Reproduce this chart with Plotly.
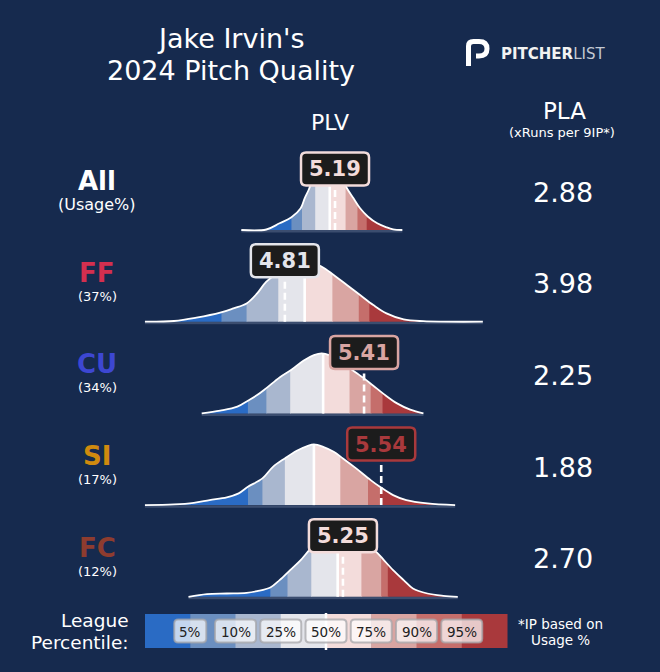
import numpy as np
import plotly.graph_objects as go

W, H = 660, 672
BG = "#162a4e"
FONT = "DejaVu Sans"

# ---------------- data ----------------
pitch_names = ["All", "FF", "CU", "SI", "FC"]
usage_labels = ["(Usage%)", "(37%)", "(34%)", "(17%)", "(12%)"]
name_colors = ["#ffffff", "#d42f4f", "#3d47d2", "#d08a0e", "#8e3c2f"]
plv_values = [5.19, 4.81, 5.41, 5.54, 5.25]
pla_values = [2.88, 3.98, 2.25, 1.88, 2.70]

percentile_labels = ["5%", "10%", "25%", "50%", "75%", "90%", "95%"]
seg_colors = ["#2a6bc4", "#6b8fc0", "#a9b7cf", "#e4e5eb",
              "#f3dcdb", "#d9a5a2", "#c56e6b", "#a9393c"]

# league percentile cut points (PLV) per pitch type
all_pcts = [4.86, 4.94, 5.04, 5.15, 5.27, 5.36, 5.43]
ff_pcts = [4.33, 4.52, 4.76, 4.96, 5.17, 5.37, 5.45]
cu_pcts = [4.53, 4.67, 4.85, 5.10, 5.30, 5.46, 5.55]
si_pcts = [4.53, 4.64, 4.81, 5.03, 5.23, 5.44, 5.53]
fc_pcts = [4.70, 4.83, 5.01, 5.21, 5.39, 5.54, 5.59]

# pitcher PLV density curves (x = PLV, y = relative density)
all_x = [4.48, 4.67, 4.77, 4.86, 4.93, 4.96, 4.99, 5.02, 5.06, 5.14, 5.21, 5.25,
         5.28, 5.33, 5.38, 5.44, 5.51, 5.58, 5.63, 5.70]
all_y = [0, 0.5, 6.7, 12.7, 21.7, 31.7, 40, 50, 58, 61, 57, 50,
         41.7, 31.7, 21.7, 13.3, 6.7, 2.7, 0.7, 0]
ff_x = [3.75, 3.97, 4.14, 4.32, 4.42, 4.52, 4.60, 4.67, 4.77, 4.89, 4.99, 5.09,
        5.18, 5.28, 5.38, 5.48, 5.58, 5.71, 5.86, 6.31]
ff_y = [0, 0.7, 4, 9, 13.3, 18.3, 28.3, 40, 50, 57, 60, 55,
        46.7, 36.7, 26.7, 16.7, 8.3, 2.3, 0.5, 0]
cu_x = [4.18, 4.32, 4.45, 4.53, 4.60, 4.67, 4.77, 4.86, 4.95, 5.03, 5.09, 5.15,
        5.23, 5.30, 5.40, 5.48, 5.56, 5.66, 5.76, 5.86]
cu_y = [0, 2.7, 6.7, 12.7, 18.3, 25.3, 36, 43.7, 52.7, 58.3, 60, 58,
        52, 45.3, 36, 27.7, 19.3, 10, 3.7, 0]
si_x = [3.75, 3.97, 4.12, 4.24, 4.37, 4.46, 4.53, 4.64, 4.72, 4.81, 4.90, 4.98,
        5.03, 5.10, 5.18, 5.25, 5.35, 5.46, 5.53, 5.63, 5.73, 5.89, 6.10]
si_y = [0, 0.7, 2.3, 5, 7.7, 11.7, 18.3, 26.7, 38.3, 46.7, 54.3, 59,
        60.7, 58.3, 53.3, 46.7, 36.7, 25, 18.3, 10, 5, 1.7, 0]
fc_x = [4.08, 4.22, 4.37, 4.52, 4.60, 4.70, 4.77, 4.85, 4.93, 5.00, 5.08, 5.19,
        5.30, 5.42, 5.51, 5.56, 5.63, 5.71, 5.78, 5.89, 6.01, 6.12]
fc_y = [0, 2.7, 3.3, 4, 5.7, 9.3, 16.7, 26.7, 36.7, 47.3, 56, 61,
        60, 53, 44, 36.7, 26.7, 16.7, 8.3, 3.3, 1, 0]

rows = [(all_x, all_y, all_pcts), (ff_x, ff_y, ff_pcts), (cu_x, cu_y, cu_pcts),
        (si_x, si_y, si_pcts), (fc_x, fc_y, fc_pcts)]

# ---------------- layout constants ----------------
XR0, XR1 = 2.652, 7.652          # PLV range across full width
SPAN = XR1 - XR0
PXU = W / SPAN                    # pixels per PLV unit
BASE0, ROW_STEP = 230.0, 91.7     # baseline of first ridge, spacing (px)
YMIN, YMAX = -3, 70
LABEL_H = 61                      # label height in density units


def xpx(v):
    return (v - XR0) * PXU


def px2paper(x, y):
    return x / W, 1 - y / H


def rrect_path(x0, y0, x1, y1, r):
    def P(x, y):
        a, b = px2paper(x, y)
        return f"{a:.5f},{b:.5f}"
    return (f"M {P(x0 + r, y0)} L {P(x1 - r, y0)} Q {P(x1, y0)} {P(x1, y0 + r)} "
            f"L {P(x1, y1 - r)} Q {P(x1, y1)} {P(x1 - r, y1)} L {P(x0 + r, y1)} "
            f"Q {P(x0, y1)} {P(x0, y1 - r)} L {P(x0, y0 + r)} Q {P(x0, y0)} {P(x0 + r, y0)} Z")


fig = go.Figure()
axes = {}
shapes = []
annos = []


def text(px, py, s, size, color="white", bold=False, xanchor="center", family=FONT):
    a, b = px2paper(px, py)
    annos.append(dict(x=a, y=b, xref="paper", yref="paper", text=s, showarrow=False,
                      xanchor=xanchor, yanchor="middle",
                      font=dict(family=family, size=size, color=color,
                                weight="bold" if bold else "normal")))


axis_n = 1
for r, (xs, ys, pc) in enumerate(rows):
    yname = "y" if r == 0 else f"y{r + 1}"
    ykey = "yaxis" if r == 0 else f"yaxis{r + 1}"
    b = BASE0 + ROW_STEP * r
    axes[ykey] = dict(domain=[(H - (b - YMIN)) / H, (H - (b - YMAX)) / H],
                      range=[YMIN, YMAX], visible=False, fixedrange=True)
    xs = np.array(xs)
    ys = np.array(ys)
    bounds = [XR0] + list(pc) + [XR1]
    for k in range(8):
        a, c = bounds[k], bounds[k + 1]
        c_ext = min(c + 0.7 / PXU, XR1)
        axis_n += 1
        axes[f"xaxis{axis_n}"] = dict(domain=[(a - XR0) / SPAN, (c_ext - XR0) / SPAN],
                                     range=[a, c_ext], visible=False, anchor=yname,
                                     fixedrange=True)
        m = (xs >= a - 0.4) & (xs <= c + 0.4)
        if m.sum() < 2:
            continue
        fig.add_trace(go.Scatter(x=xs[m], y=ys[m], xaxis=f"x{axis_n}", yaxis=yname,
                                 mode="lines", line=dict(width=0, shape="spline",
                                                         color=seg_colors[k]),
                                 fill="tozeroy", fillcolor=seg_colors[k],
                                 hoverinfo="skip", showlegend=False))

# line axis (drawn on top of fills)
axis_n += 1
LX = f"x{axis_n}"
axes[f"xaxis{axis_n}"] = dict(domain=[0, 1], range=[XR0, XR1], visible=False,
                             anchor="y", fixedrange=True)
axes["xaxis"] = dict(domain=[0, 1], range=[XR0, XR1], visible=False, fixedrange=True)

for r, (xs, ys, pc) in enumerate(rows):
    yname = "y" if r == 0 else f"y{r + 1}"
    b = BASE0 + ROW_STEP * r
    v = plv_values[r]
    # baseline strip
    fig.add_trace(go.Scatter(x=[xs[0], xs[-1]], y=[-1.3, -1.3], xaxis=LX, yaxis=yname,
                             mode="lines", line=dict(color="rgba(190,205,230,0.22)", width=2.5),
                             hoverinfo="skip", showlegend=False))
    # outline
    fig.add_trace(go.Scatter(x=xs, y=ys, xaxis=LX, yaxis=yname, mode="lines",
                             line=dict(color="white", width=1.8, shape="spline"),
                             hoverinfo="skip", showlegend=False))
    # league median
    med = pc[3]
    fig.add_trace(go.Scatter(x=[med, med], y=[0, float(np.interp(med, xs, ys))],
                             xaxis=LX, yaxis=yname, mode="lines",
                             line=dict(color="white", width=2.6),
                             hoverinfo="skip", showlegend=False))
    # pitcher value
    fig.add_trace(go.Scatter(x=[v, v], y=[0, LABEL_H - 5], xaxis=LX, yaxis=yname,
                             mode="lines", line=dict(color="white", width=2.6, dash="7px,4px"),
                             hoverinfo="skip", showlegend=False))
    # value label box
    cat = int(np.searchsorted(pc, v))
    col = seg_colors[cat]
    cx, cy = xpx(v), b - LABEL_H
    shapes.append(dict(type="path", xref="paper", yref="paper",
                       path=rrect_path(cx - 34, cy - 16.5, cx + 34, cy + 16.5, 5),
                       fillcolor="#1c1c1c", line=dict(color=col, width=2.5), layer="above"))
    text(cx, cy + 0.5, f"{v:.2f}", 21, color=col, bold=True)
    # row labels
    text(97, b - 49, pitch_names[r], 26, color=name_colors[r], bold=True)
    text(97, b - 25.5, usage_labels[r], 16 if r == 0 else 13)
    # PLA
    text(563, b - 38, f"{pla_values[r]:.2f}", 27)

# ---------------- header ----------------
text(231, 38, "Jake Irvin's", 27)
text(231, 71, "2024 Pitch Quality", 27)
text(330, 122, "PLV", 22)
text(564, 111, "PLA", 23)
text(562, 132.5, "(xRuns per 9IP*)", 13)

# logo
def lp(x, y):
    a, b = px2paper(x, y)
    return f"{a:.5f},{b:.5f}"
shapes.append(dict(type="path", xref="paper", yref="paper",
                   path=(f"M {lp(468.5, 66)} L {lp(468.5, 46)} Q {lp(468.5, 41.5)} {lp(473.5, 41.5)} "
                         f"L {lp(479, 41.5)} Q {lp(487, 41.5)} {lp(487, 48.8)} "
                         f"Q {lp(487, 56)} {lp(479, 56)} L {lp(476, 56)}"),
                   line=dict(color="white", width=5), layer="above"))
a, bb = px2paper(499, 53.5)
annos.append(dict(x=a, y=bb, xref="paper", yref="paper", showarrow=False,
                  xanchor="left", yanchor="middle",
                  text="<b>PITCHER</b><span style='color:#c3c9d4'>LIST</span>",
                  font=dict(family=FONT, size=15, color="#f2f2f2")))

# ---------------- legend bar ----------------
L0, L1, LT, LB = 145, 507, 614, 648
sw = (L1 - L0) / 8
for k in range(8):
    x0p, y0p = px2paper(L0 + k * sw, LT)
    x1p, y1p = px2paper(L0 + (k + 1) * sw + 0.5, LB)
    shapes.append(dict(type="rect", xref="paper", yref="paper", x0=x0p, x1=x1p,
                       y0=y1p, y1=y0p, fillcolor=seg_colors[k], line=dict(width=0),
                       layer="above"))
mx0, my0 = px2paper(L0 + 4 * sw, LT - 1)
mx1, my1 = px2paper(L0 + 4 * sw, LB + 2)
shapes.append(dict(type="line", xref="paper", yref="paper", x0=mx0, x1=mx1, y0=my0, y1=my1,
                   line=dict(color="white", width=2.5), layer="above"))
for k, lab in enumerate(percentile_labels):
    cx = L0 + (k + 1) * sw
    hw = 16 if len(lab) == 2 else 20.5
    shapes.append(dict(type="path", xref="paper", yref="paper",
                       path=rrect_path(cx - hw, 619.5, cx + hw, 642.5, 4),
                       fillcolor="rgba(255,255,255,0.72)",
                       line=dict(color="rgba(165,165,170,0.75)", width=2), layer="above"))
    text(cx, 631.5, lab, 13.5, color="#222222")

text(131, 620.5, "League", 18.5, xanchor="right")
text(131, 642, "Percentile:", 18.5, xanchor="right")
text(560, 623.5, "*IP based on", 13.5)
text(560, 639.5, "Usage %", 13.5)

fig.update_layout(width=W, height=H, margin=dict(l=0, r=0, t=0, b=0),
                  paper_bgcolor=BG, plot_bgcolor="rgba(0,0,0,0)",
                  showlegend=False, shapes=shapes, annotations=annos, **axes)
fig.write_html("out.html", config={"displayModeBar": False},
               post_script="document.body.style.margin='0';document.body.style.background='" + BG + "';")
